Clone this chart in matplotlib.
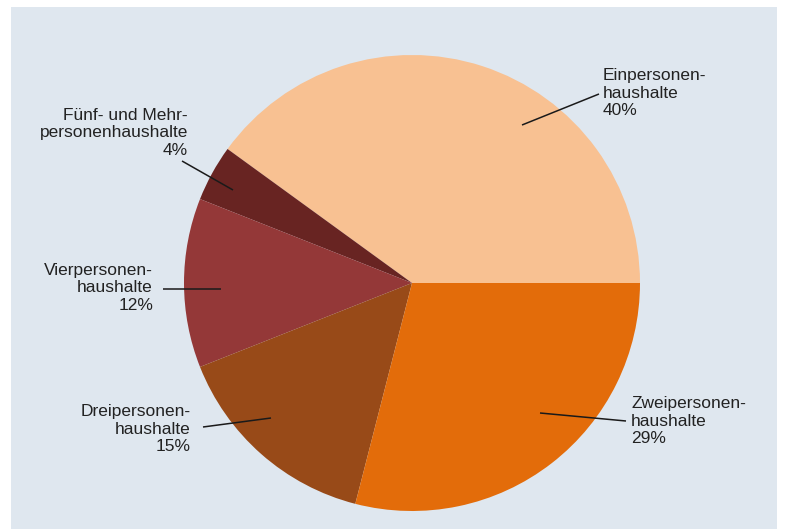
import matplotlib
matplotlib.use('Agg')
import matplotlib.pyplot as plt
from matplotlib.patches import Rectangle

# Haushaltsgrößen, Anteile in Prozent
labels = ['Einpersonen-\nhaushalte', 'Fünf- und Mehr-\npersonenhaushalte',
          'Vierpersonen-\nhaushalte', 'Dreipersonen-\nhaushalte',
          'Zweipersonen-\nhaushalte']
shares = [40, 4, 12, 15, 29]
colors = ['#f8c192', '#682422', '#943838', '#984a18', '#e36c0a']

W, H = 787, 529
plt.rcParams['font.family'] = ['Liberation Sans', 'DejaVu Sans']

fig = plt.figure(figsize=(W / 100, H / 100), dpi=100)
ax = fig.add_axes([0, 0, 1, 1])

# Hintergrundfläche
ax.add_patch(Rectangle((11, 0), 766, H - 7, facecolor='#dfe7ef',
                       edgecolor='none', zorder=0))

cx, cy, r = 412, H - 283, 228
ax.pie(shares, colors=colors, startangle=0, counterclock=True,
       center=(cx, cy), radius=r, frame=True,
       wedgeprops=dict(linewidth=0))
ax.set_xlim(0, W)
ax.set_ylim(0, H)
ax.set_aspect('equal')
ax.axis('off')

# Beschriftungen: (Textpunkt, Linienanfang, Linienende im Segment, Ausrichtung)
label_pos = [
    ((603, 93), (599, 94), (522, 125), 'left'),
    ((188, 133), (182, 161), (233, 190), 'right'),
    ((153, 288), (163, 289), (221, 289), 'right'),
    ((191, 429), (203, 427), (271, 418), 'right'),
    ((631, 421), (626, 421), (540, 413), 'left'),
]
for lab, val, (tp, p0, p1, ha) in zip(labels, shares, label_pos):
    ax.text(tp[0], H - tp[1], f'{lab}\n{val}%', ha=ha, va='center',
            fontsize=12.5, color='#222222', linespacing=1.22)
    ax.plot([p0[0], p1[0]], [H - p0[1], H - p1[1]], color='#1a1a1a',
            linewidth=1.1, solid_capstyle='butt')

fig.savefig('out.png', dpi=100)
